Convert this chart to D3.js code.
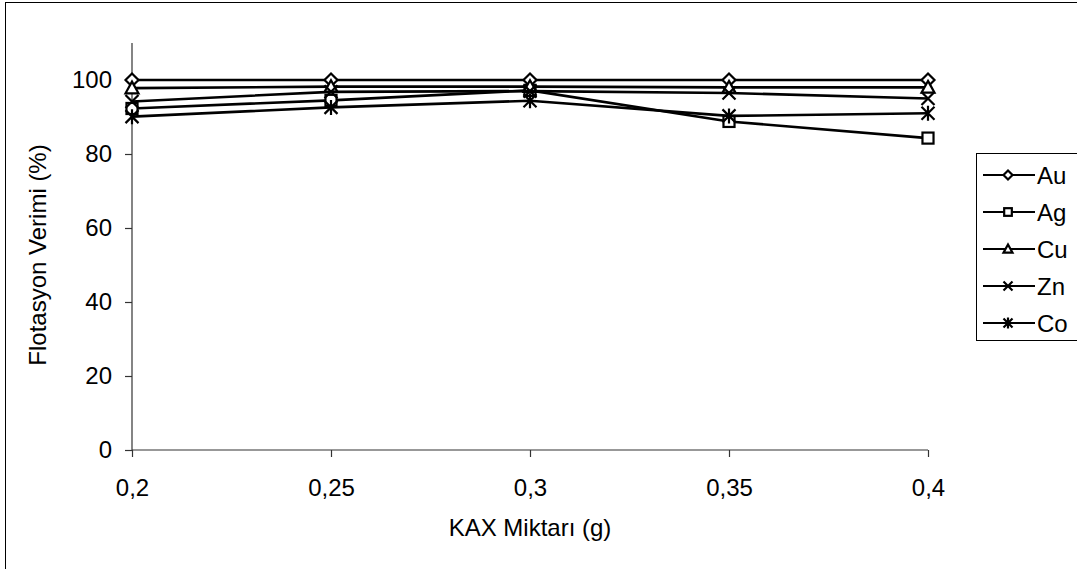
<!DOCTYPE html>
<html>
<head>
<meta charset="utf-8">
<script src="https://cdn.jsdelivr.net/npm/d3@7"></script>
<style>
  html, body { margin: 0; padding: 0; background: #fff; }
  svg { display: block; font-family: "Liberation Sans", Arial, sans-serif; }
</style>
</head>
<body>
<svg id="chart" width="1077" height="569"></svg>
<script>
// KAX amounts (g) on the x axis
const kaxAmounts = [0.2, 0.25, 0.3, 0.35, 0.4];
const xTickLabels = ["0,2", "0,25", "0,3", "0,35", "0,4"];
const yTicks = [0, 20, 40, 60, 80, 100];

// Flotation recovery (%) for each metal
const seriesNames = ["Au", "Ag", "Cu", "Zn", "Co"];
const auValues = [100, 100, 100, 100, 100];
const agValues = [92.3, 94.5, 97.2, 88.8, 84.3];
const cuValues = [97.8, 98.2, 98.2, 98.0, 98.0];
const znValues = [94.2, 96.8, 97.0, 96.5, 95.0];
const coValues = [90.1, 92.6, 94.4, 90.3, 91.0];

const markers = ["diamond", "square", "triangle", "x", "star"];
const series = seriesNames.map((name, i) => ({
  name,
  values: [auValues, agValues, cuValues, znValues, coValues][i],
  marker: markers[i]
}));

const svg = d3.select("#chart");
const FONT = "'Liberation Sans', Arial, sans-serif";

// outer chart frame
svg.append("rect")
  .attr("x", 5.5).attr("y", 2.5)
  .attr("width", 1100).attr("height", 600)
  .attr("fill", "none").attr("stroke", "#000").attr("stroke-width", 1);

const x = d3.scaleLinear().domain([0.2, 0.4]).range([132, 928]);
const y = d3.scaleLinear().domain([0, 110]).range([450, 43]);

// y axis
const yAxis = d3.axisLeft(y).tickValues(yTicks).tickSize(7).tickPadding(13).tickFormat(d3.format("d"));
const gy = svg.append("g").attr("transform", `translate(${x(0.2)},0)`).call(yAxis);
gy.select(".domain").attr("d", `M0,${y(110)}V${y(0)}`);

// x axis
const xAxis = d3.axisBottom(x).tickValues(kaxAmounts).tickSize(7).tickPadding(20)
  .tickFormat((d, i) => xTickLabels[i]);
const gx = svg.append("g").attr("transform", `translate(0,${y(0)})`).call(xAxis);
gx.select(".domain").attr("d", `M${x(0.2)},0H${x(0.4)}`);

[gx, gy].forEach(g => {
  g.attr("font-size", null).attr("font-family", null);
  g.selectAll(".domain, .tick line").attr("stroke", "#333").attr("stroke-width", 1.2);
  g.selectAll(".tick text")
    .style("font-size", "24px").style("font-family", FONT).attr("fill", "#000");
});
gx.selectAll(".tick text").attr("dy", null).attr("y", 46);

// axis titles
svg.append("text")
  .attr("x", 530).attr("y", 536)
  .attr("text-anchor", "middle")
  .style("font-size", "24px").style("font-family", FONT)
  .text("KAX Miktarı (g)");
svg.append("text")
  .attr("transform", `translate(46,255) rotate(-90)`)
  .attr("text-anchor", "middle")
  .style("font-size", "24px").style("font-family", FONT)
  .text("Flotasyon Verimi (%)");

// marker glyphs
function drawMarker(g, type, cx, cy, r) {
  const st = { stroke: "#000", "stroke-width": 2.2, fill: "#fff" };
  let el;
  if (type === "diamond") {
    el = g.append("path").attr("d", `M${cx},${cy - r}L${cx + r},${cy}L${cx},${cy + r}L${cx - r},${cy}Z`);
  } else if (type === "square") {
    const h = r * 0.85;
    el = g.append("rect").attr("x", cx - h).attr("y", cy - h).attr("width", 2 * h).attr("height", 2 * h);
  } else if (type === "triangle") {
    el = g.append("path").attr("d", `M${cx},${cy - r}L${cx + r},${cy + r * 0.8}L${cx - r},${cy + r * 0.8}Z`);
  } else if (type === "x") {
    el = g.append("path").attr("d", `M${cx - r},${cy - r}L${cx + r},${cy + r}M${cx - r},${cy + r}L${cx + r},${cy - r}`);
    st.fill = "none";
  } else {
    el = g.append("path").attr("d",
      `M${cx - r},${cy - r}L${cx + r},${cy + r}M${cx - r},${cy + r}L${cx + r},${cy - r}M${cx},${cy - r - 1}L${cx},${cy + r + 1}`);
    st.fill = "none";
  }
  Object.entries(st).forEach(([k, v]) => el.attr(k, v));
}

const line = d3.line().x((d, i) => x(kaxAmounts[i])).y(d => y(d));

const plot = svg.append("g");
series.forEach(s => {
  const g = plot.append("g");
  g.append("path").attr("d", line(s.values))
    .attr("fill", "none").attr("stroke", "#000").attr("stroke-width", 2.6);
  s.values.forEach((v, i) => drawMarker(g, s.marker, x(kaxAmounts[i]), y(v), 6.5));
});

// legend
const legend = svg.append("g");
legend.append("rect")
  .attr("x", 976.5).attr("y", 153.5).attr("width", 120).attr("height", 187)
  .attr("fill", "#fff").attr("stroke", "#000").attr("stroke-width", 1);
series.forEach((s, i) => {
  const ly = 175 + i * 37;
  const g = legend.append("g");
  g.append("line").attr("x1", 983).attr("x2", 1035).attr("y1", ly).attr("y2", ly)
    .attr("stroke", "#000").attr("stroke-width", 2);
  drawMarker(g, s.marker, 1008, ly, 4.5);
  g.append("text").attr("x", 1037).attr("y", ly).attr("dy", "0.36em")
    .style("font-size", "24px").style("font-family", FONT).text(s.name);
});
</script>
</body>
</html>
